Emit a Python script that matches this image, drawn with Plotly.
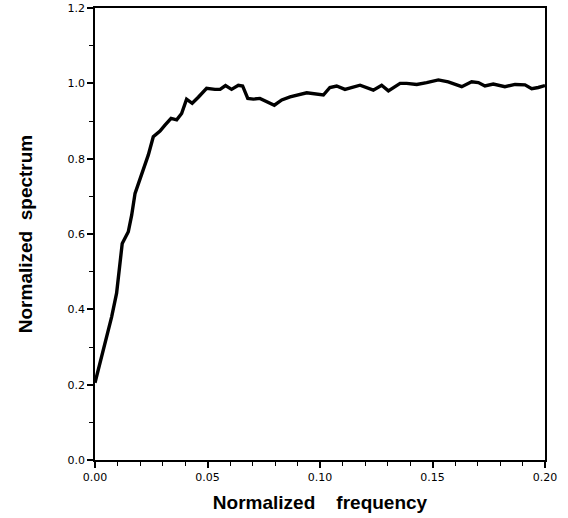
import plotly.graph_objects as go

freq = [0.0, 0.0015, 0.0044, 0.0074, 0.0096, 0.0111, 0.0121, 0.0148, 0.0163, 0.0178,
        0.0207, 0.0237, 0.0259, 0.0289, 0.0311, 0.0338, 0.0363, 0.0385, 0.0407, 0.0432,
        0.0459, 0.0496, 0.0533, 0.0556, 0.0580, 0.0607, 0.0637, 0.0656, 0.0679, 0.0704,
        0.0733, 0.0770, 0.0797, 0.0830, 0.0867, 0.0941, 0.1015, 0.1044, 0.1074, 0.1111,
        0.1178, 0.1237, 0.1274, 0.1304, 0.1356, 0.1385, 0.1430, 0.1474, 0.1526, 0.1570,
        0.1630, 0.1674, 0.1704, 0.1733, 0.1770, 0.1822, 0.1867, 0.1911, 0.1941, 0.1970,
        0.2000]
spectrum = [0.205, 0.239, 0.310, 0.380, 0.443, 0.513, 0.575, 0.606, 0.650, 0.708,
            0.761, 0.810, 0.858, 0.873, 0.889, 0.907, 0.903, 0.920, 0.958, 0.947,
            0.963, 0.987, 0.984, 0.984, 0.994, 0.984, 0.995, 0.993, 0.960, 0.958,
            0.960, 0.951, 0.942, 0.956, 0.964, 0.975, 0.969, 0.989, 0.993, 0.984,
            0.995, 0.982, 0.995, 0.980, 1.000, 1.000, 0.997, 1.002, 1.009, 1.004,
            0.991, 1.004, 1.002, 0.993, 0.998, 0.991, 0.997, 0.996, 0.986, 0.989,
            0.994]

x_ticks = [0.0, 0.05, 0.10, 0.15, 0.20]
x_labels = ["0.00", "0.05", "0.10", "0.15", "0.20"]
y_ticks = [0.0, 0.2, 0.4, 0.6, 0.8, 1.0, 1.2]
y_labels = ["0.0", "0.2", "0.4", "0.6", "0.8", "1.0", "1.2"]

fig = go.Figure()
fig.add_trace(go.Scatter(x=freq, y=spectrum, mode="lines",
                         line=dict(color="black", width=3.4, shape="linear"),
                         showlegend=False, hoverinfo="skip"))

tick_font = dict(family="DejaVu Sans, Liberation Sans, sans-serif", size=11, color="black")
title_font = dict(family="Liberation Sans, Arial, sans-serif", size=19, color="black")

fig.update_layout(
    width=568, height=518,
    margin=dict(l=95, r=23, t=8, b=58, autoexpand=False),
    paper_bgcolor="white", plot_bgcolor="white",
    xaxis=dict(
        range=[0, 0.2], tickvals=x_ticks, ticktext=x_labels,
        ticks="outside", ticklen=6, tickwidth=1.5, tickcolor="black",
        minor=dict(dtick=0.01, ticks="outside", ticklen=4, tickwidth=1.2, tickcolor="black", showgrid=False),
        showline=True, linecolor="black", linewidth=1.8, mirror=True,
        showgrid=False, zeroline=False, tickfont=tick_font, automargin=False,
        title=dict(text="<b>Normalized\u00a0\u00a0\u00a0\u00a0frequency</b>", font=title_font, standoff=13),
    ),
    yaxis=dict(
        range=[0, 1.2], tickvals=y_ticks, ticktext=y_labels,
        ticks="outside", ticklen=6, tickwidth=1.5, tickcolor="black",
        minor=dict(dtick=0.1, ticks="outside", ticklen=4, tickwidth=1.2, tickcolor="black", showgrid=False),
        showline=True, linecolor="black", linewidth=1.8, mirror=True,
        showgrid=False, zeroline=False, tickfont=tick_font, automargin=False,
        title=dict(text="<b>Normalized\u00a0\u00a0spectrum</b>", font=title_font, standoff=30),
    ),
)

fig.write_html("out.html", config={"displayModeBar": False},
               post_script="document.body.style.margin='0';")
